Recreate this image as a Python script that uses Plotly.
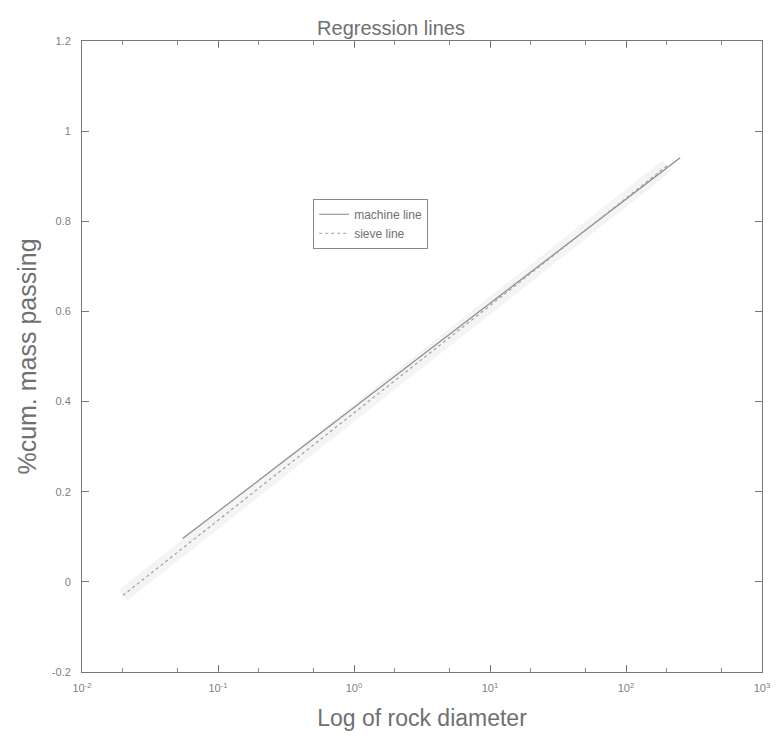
import plotly.graph_objects as go

# Fitted regression lines on a log-diameter axis
machine_x = [0.055, 250]
machine_y = [0.096, 0.941]
sieve_x = [0.02, 200]
sieve_y = [-0.030, 0.923]

x_tickvals = [0.01, 0.1, 1, 10, 100, 1000]
x_ticktext = ["10<sup>-2</sup>", "10<sup>-1</sup>", "10<sup>0</sup>",
              "10<sup>1</sup>", "10<sup>2</sup>", "10<sup>3</sup>"]
y_tickvals = [-0.2, 0, 0.2, 0.4, 0.6, 0.8, 1, 1.2]
y_ticktext = ["-0.2", "0", "0.2", "0.4", "0.6", "0.8", "1", "1.2"]

FONT = "Liberation Sans, Arial, sans-serif"

fig = go.Figure()

# soft halo beneath the lines
fig.add_trace(go.Scatter(x=sieve_x, y=sieve_y, mode="lines", showlegend=False,
                         hoverinfo="skip",
                         line=dict(color="rgba(150,150,150,0.10)", width=14)))
fig.add_trace(go.Scatter(x=machine_x, y=machine_y, mode="lines", name="machine line",
                         line=dict(color="#8a8a8a", width=1.2)))
fig.add_trace(go.Scatter(x=sieve_x, y=sieve_y, mode="lines", name="sieve line",
                         line=dict(color="#a0a0a0", width=1.2, dash="dot")))

axis_font = dict(family=FONT, size=11, color="#808080")

fig.update_layout(
    width=782, height=751,
    margin=dict(l=82, r=13, t=41, b=79),
    paper_bgcolor="white", plot_bgcolor="white",
    title=dict(text="Regression lines", x=0.5, xanchor="center", y=0.963, yanchor="middle",
               font=dict(family=FONT, size=20, color="#707070")),
    showlegend=True,
    legend=dict(x=0.340, y=0.750, xanchor="left", yanchor="top",
                bgcolor="white", bordercolor="#888888", borderwidth=1,
                font=dict(family=FONT, size=12, color="#707070"),
                tracegroupgap=0, itemwidth=30,
                entrywidth=140, entrywidthmode="pixels"),
    xaxis=dict(type="log", range=[-2, 3], tickvals=x_tickvals, ticktext=x_ticktext,
               ticks="inside", ticklen=7, tickcolor="#777777", ticklabelstandoff=6,
               minor=dict(ticks="inside", ticklen=4, tickcolor="#888888", showgrid=False),
               showline=True, linecolor="#777777", linewidth=1, mirror="ticks",
               showgrid=False, zeroline=False, tickfont=axis_font,
               title=dict(text="Log of rock diameter",
                          font=dict(family=FONT, size=23, color="#707070"), standoff=16)),
    yaxis=dict(range=[-0.2, 1.2], tickvals=y_tickvals, ticktext=y_ticktext,
               ticks="inside", ticklen=7, tickcolor="#777777", ticklabelstandoff=8,
               showline=True, linecolor="#777777", linewidth=1, mirror="ticks",
               showgrid=False, zeroline=False, tickfont=axis_font,
               title=dict(text="%cum. mass passing",
                          font=dict(family=FONT, size=25, color="#707070"), standoff=8)),
)

fig.write_html("out.html")
